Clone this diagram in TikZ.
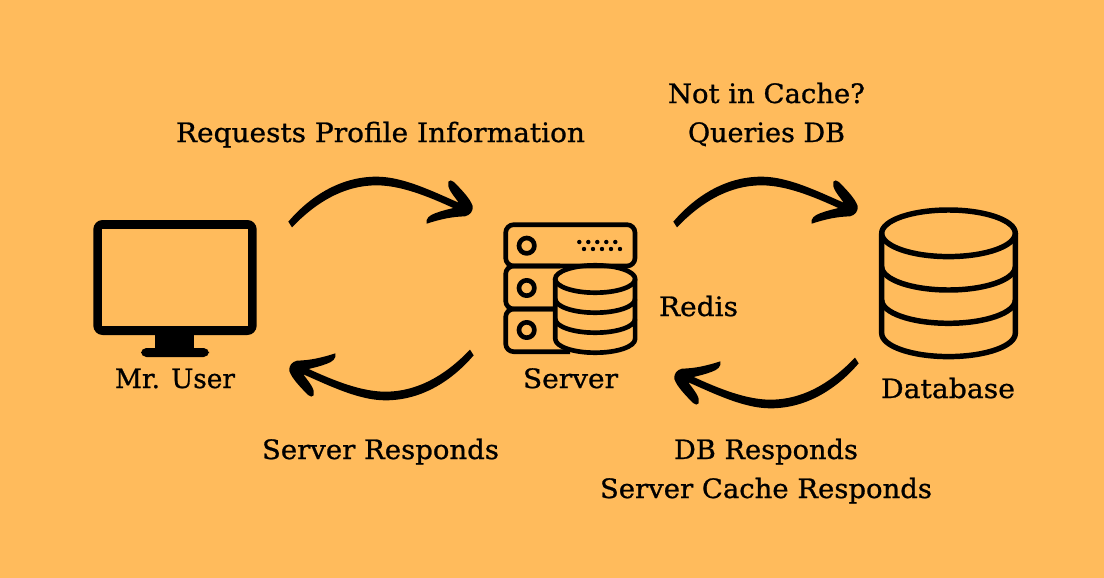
\documentclass[tikz,border=0pt]{standalone}
\usepackage{fontspec}
\usepackage{graphicx}
\setmainfont{DejaVu Serif}[FakeBold=0.9]
\definecolor{bgc}{HTML}{FFBB5C}
\newcommand{\arrowshape}{%
  \fill[black,line join=round] (55,185) .. controls (115,115) and (205,50) .. (320,50)
    .. controls (400,50) and (490,95) .. (566,128)
    .. controls (550,105) and (530,85) .. (535,65)
    .. controls (538,58) and (546,62) .. (552,66)
    .. controls (575,90) and (600,115) .. (608,138)
    .. controls (610,155) and (600,165) .. (585,169)
    .. controls (545,170) and (510,178) .. (470,191)
    .. controls (466,175) and (480,165) .. (495,160)
    .. controls (515,152) and (535,148) .. (550,144)
    .. controls (480,112) and (395,76) .. (320,76)
    .. controls (215,76) and (130,135) .. (66,202) -- cycle;}
\newcommand{\lbl}[2]{\resizebox{#1\pxu}{\height}{#2}}
\newlength{\pxu}\setlength{\pxu}{0.75pt}
\tikzset{
  labeltext/.style={anchor=base,inner sep=0pt,outer sep=0pt,font=\fontsize{20}{24}\selectfont,text=black},
  iconbig/.style={draw=black,line width=4.1pt,line join=round},
  iconsmall/.style={draw=black,line width=3.5pt,line join=round},
}
\begin{document}
\begin{tikzpicture}[x=0.75pt,y=-0.75pt]
\useasboundingbox (0,0) rectangle (1104,578);
\fill[bgc] (0,0) rectangle (1104,578);
% arrows
\begin{scope}[shift={(270,160)},x=0.25pt,y=-0.25pt]\arrowshape\end{scope}
\begin{scope}[shift={(655,160)},x=0.25pt,y=-0.25pt]\arrowshape\end{scope}
\begin{scope}[shift={(492,417)},x=-0.25pt,y=0.25pt]\arrowshape\end{scope}
\begin{scope}[shift={(877,425)},x=-0.25pt,y=0.25pt]\arrowshape\end{scope}
% monitor
\fill[black,rounded corners=7pt] (93.3,220) rectangle (256.7,335);
\fill[bgc] (102,229.3) rectangle (247.7,326.3);
\fill[black] (155,333) rectangle (194.3,350);
\fill[black,rounded corners=4pt] (141,348) rectangle (209,357);
% server
\draw[iconsmall,rounded corners=6pt] (505.7,224.7) rectangle (635,266);
\draw[iconsmall,rounded corners=6pt] (560,266) -- (505.7,266) -- (505.7,309) -- (560,309);
\draw[iconsmall,rounded corners=6pt] (560,309) -- (505.7,309) -- (505.7,351.7) -- (570,351.7);
\foreach \yy in {245.7,288,330}{\draw[iconsmall] (526.7,\yy) circle [radius=7.7];}
\foreach \xx in {579.3,588.3,597.3,606.3,615.3}{\fill[black] (\xx,242) circle [radius=2.2];}
\foreach \xx in {584,593,602,611,620}{\fill[black] (\xx,249) circle [radius=2.2];}
\fill[bgc] (555.3,279) arc [start angle=180,end angle=360,x radius=40,y radius=-13.7] -- (635,339) arc [start angle=0,end angle=180,x radius=40,y radius=-13.7] -- cycle;
\draw[iconsmall] (595.2,279) ellipse [x radius=40,y radius=13.7];
\draw[iconsmall] (555.3,279) -- (555.3,339) arc [start angle=180,end angle=0,x radius=39.9,y radius=13.7] -- (635,279);
\draw[iconsmall] (555.3,299) arc [start angle=180,end angle=0,x radius=39.9,y radius=13.7];
\draw[iconsmall] (555.3,319) arc [start angle=180,end angle=0,x radius=39.9,y radius=13.7];
% database
\draw[iconbig] (948.5,233.3) ellipse [x radius=66.8,y radius=23.3];
\draw[iconbig] (881.7,233.3) -- (881.7,333.3) arc [start angle=180,end angle=0,x radius=66.8,y radius=23.3] -- (1015.3,233.3);
\draw[iconbig] (881.7,266.7) arc [start angle=180,end angle=0,x radius=66.8,y radius=23.3];
\draw[iconbig] (881.7,300) arc [start angle=180,end angle=0,x radius=66.8,y radius=23.3];
% labels
\node[labeltext] (reqlabel) at (380.5,142) {\lbl{409}{Requests Profile Information}};
\node[labeltext] (notcache) at (766.5,103) {\lbl{197}{Not in Cache?}};
\node[labeltext] (queries) at (766.5,142) {\lbl{157}{Queries DB}};
\node[labeltext] (userlabel) at (175,388) {\lbl{120}{Mr. User}};
\node[labeltext] (serverlabel) at (570.5,388) {\lbl{95}{Server}};
\node[labeltext] (redis) at (698.5,316) {\lbl{79}{Redis}};
\node[labeltext] (dblabel) at (948,398) {\lbl{134}{Database}};
\node[labeltext] (srvresp) at (380.5,459) {\lbl{237}{Server Responds}};
\node[labeltext] (dbresp) at (766,459) {\lbl{184}{DB Responds}};
\node[labeltext] (cacheresp) at (766,498) {\lbl{332}{Server Cache Responds}};
\end{tikzpicture}
\end{document}
